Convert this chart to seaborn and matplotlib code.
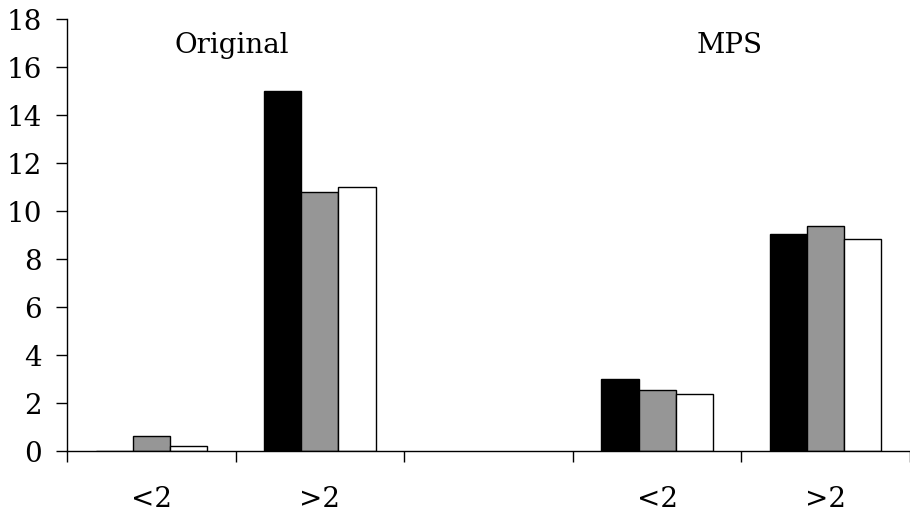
import matplotlib
matplotlib.use("Agg")
import matplotlib.pyplot as plt
import seaborn as sns
import pandas as pd
import numpy as np

categories = ["O<2", "O>2", "gap", "M<2", "M>2"]
tick_labels = ["<2", ">2", "", "<2", ">2"]
series = ["A", "B", "C"]
values_A = [0.0, 15.0, np.nan, 3.0, 9.03]
values_B = [0.62, 10.8, np.nan, 2.54, 9.38]
values_C = [0.2, 11.0, np.nan, 2.37, 8.84]
group_titles = ["Original", "MPS"]
group_title_x = [0.48, 3.43]

rows = []
for s, vals in zip(series, [values_A, values_B, values_C]):
    for c, v in zip(categories, vals):
        rows.append({"cat": c, "series": s, "value": v})
df = pd.DataFrame(rows)

sns.set_style("white")
plt.rcParams["font.family"] = ["DejaVu Serif"]
plt.rcParams["text.color"] = "black"
plt.rcParams["xtick.color"] = "black"
plt.rcParams["ytick.color"] = "black"

fig = plt.figure(figsize=(9.10, 5.14), dpi=100)
ax = fig.add_axes([67/910, 63/514, 843/910, 432/514])

palette = {"A": "#000000", "B": "#969696", "C": "#ffffff"}
sns.barplot(data=df, x="cat", y="value", hue="series", order=categories,
            hue_order=series, palette=palette, width=0.66, edgecolor="black",
            linewidth=1.0, saturation=1, ax=ax, legend=False, errorbar=None)

ax.set_ylim(0, 18)
ax.set_xlim(-0.5, -0.5 + 843/170.3)
ax.set_yticks(np.arange(0, 19, 2))
ax.set_yticklabels([str(v) for v in range(0, 19, 2)], fontsize=20, color="black")
ax.set_xticks(range(len(categories)))
ax.set_xticklabels(tick_labels, fontsize=20, color="black")
ax.set_xticks(np.arange(-0.5, 5.0, 1.0), minor=True)
ax.tick_params(axis="x", which="major", bottom=True, length=0, pad=25)
ax.tick_params(axis="x", which="minor", bottom=True, length=8, width=1, direction="out", color="black")
ax.tick_params(axis="y", left=True, length=8, width=1, direction="out", color="black", pad=10)
ax.set_xlabel("")
ax.set_ylabel("")
for sp in ["top", "right"]:
    ax.spines[sp].set_visible(False)
for sp in ["left", "bottom"]:
    ax.spines[sp].set_color("black")
    ax.spines[sp].set_linewidth(1.0)

for t, x in zip(group_titles, group_title_x):
    ax.text(x, 16.9, t, ha="center", va="center", fontsize=20, color="black")

fig.savefig("out.png", dpi=100, facecolor="white")
